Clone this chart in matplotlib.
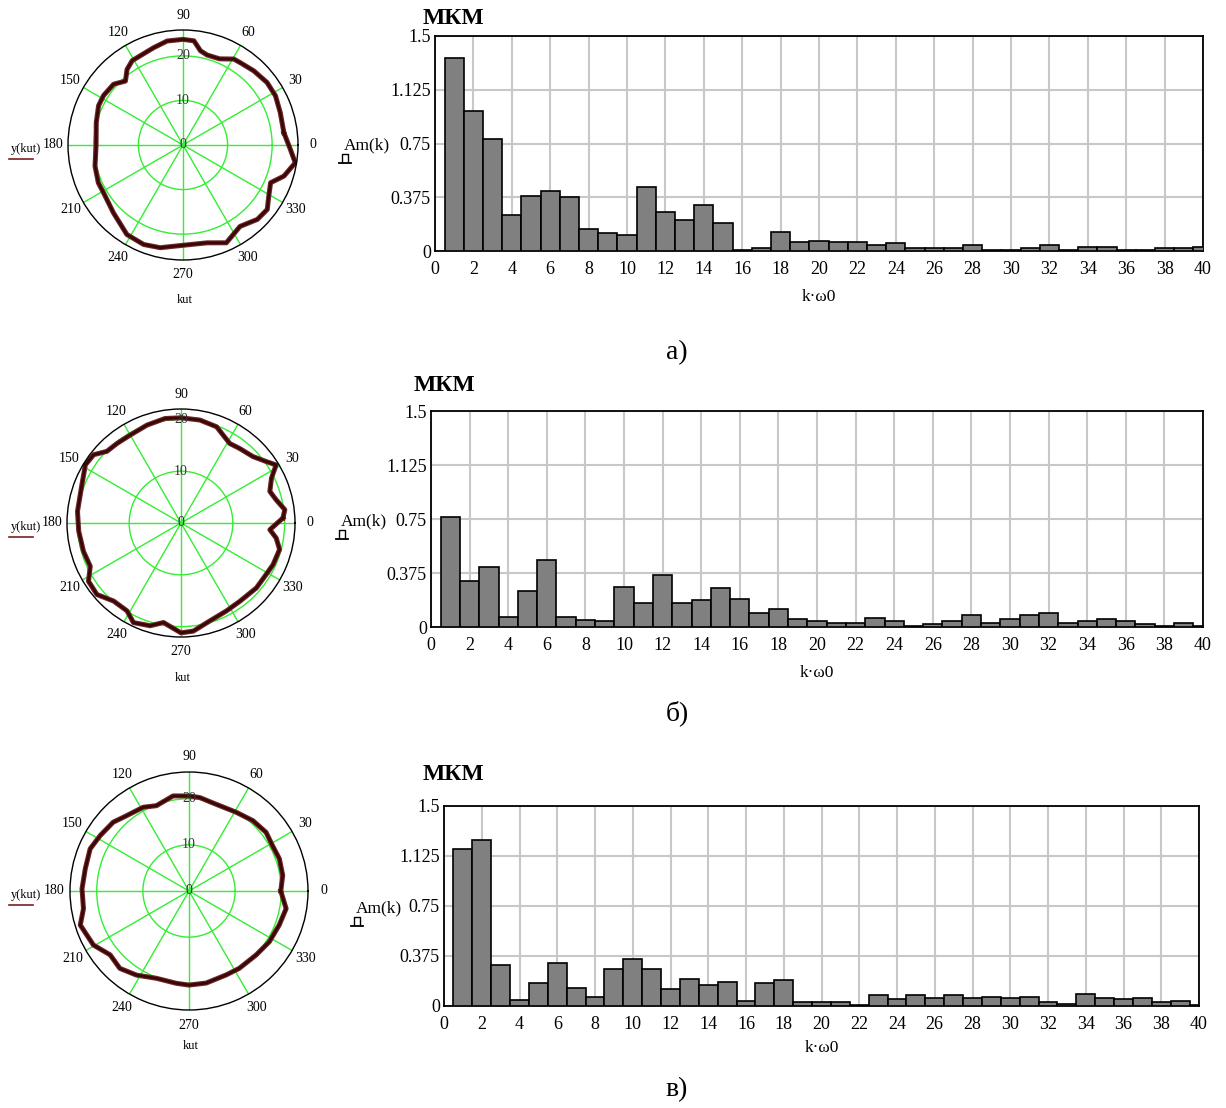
import numpy as np
import matplotlib
matplotlib.use('Agg')
import matplotlib.pyplot as plt
from matplotlib.lines import Line2D

plt.rcParams['font.family'] = ['Liberation Serif', 'DejaVu Serif']

# ---------------- data ----------------
k = np.arange(1, 41)

amp_a = [1.35, 0.98, 0.78, 0.249, 0.384, 0.417, 0.375, 0.156, 0.126, 0.112,
         0.447, 0.27, 0.219, 0.324, 0.198, 0.01, 0.02, 0.133, 0.063, 0.072,
         0.063, 0.063, 0.042, 0.053, 0.019, 0.019, 0.019, 0.042, 0.005, 0.005,
         0.019, 0.042, 0.005, 0.03, 0.03, 0.005, 0.005, 0.019, 0.019, 0.03]

amp_b = [0.762, 0.322, 0.415, 0.07, 0.25, 0.468, 0.07, 0.051, 0.04, 0.28,
         0.165, 0.364, 0.165, 0.188, 0.269, 0.195, 0.1, 0.123, 0.053, 0.042,
         0.028, 0.028, 0.063, 0.042, 0.005, 0.021, 0.042, 0.081, 0.028, 0.053,
         0.081, 0.097, 0.03, 0.042, 0.053, 0.042, 0.021, 0.005, 0.03, 0.005]

amp_c = [1.181, 1.243, 0.304, 0.045, 0.169, 0.326, 0.137, 0.064, 0.274, 0.356,
         0.274, 0.127, 0.199, 0.157, 0.179, 0.035, 0.175, 0.194, 0.027, 0.027,
         0.027, 0.005, 0.082, 0.05, 0.082, 0.06, 0.082, 0.06, 0.07, 0.06,
         0.07, 0.03, 0.017, 0.092, 0.06, 0.05, 0.06, 0.03, 0.04, 0.005]

ang_a = [7, 18.4, 28, 36.6, 46.3, 55.1, 59.4, 67, 75, 79.5, 84, 90, 98.7, 106.8,
         115.6, 121, 126.5, 132, 138.8, 148, 155, 165.5, 180, 193.5, 204, 211,
         224.3, 237.9, 248.4, 257.5, 270, 283.8, 293.9, 305, 315, 322.6, 329.2,
         336.7, 342.9, 351, 357.7]
rad_a = [22.8, 23.0, 23.5, 23.5, 23.0, 22.5, 22.4, 21.0, 20.9, 21.5, 23.5, 23.7,
         23.6, 22.8, 22.2, 22.1, 21.1, 19.3, 20.7, 21.0, 20.9, 20.1, 19.5, 20.3,
         20.8, 20.8, 21.8, 23.7, 24.0, 23.6, 22.5, 22.6, 24.0, 22.3, 23.6, 23.8,
         22.4, 21.4, 23.7, 25.5, 24.1]

ang_b = [2.8, 7.3, 13.7, 19.6, 26.4, 31.4, 35.7, 42.7, 51.8, 58.5, 69.7, 79.6,
         90, 98.7, 109.2, 120, 128.8, 136, 142, 148.7, 158.9, 173.6, 184.6,
         196.2, 205.5, 212.2, 220.4, 229.2, 238.4, 244.5, 253.3, 260, 270,
         276.5, 286.4, 297.3, 307, 319.3, 328.9, 335.7, 345, 351, 355.7]
rad_b = [19.7, 20.2, 18.9, 18.2, 19.5, 21.5, 20.3, 18.9, 18.3, 18.0, 19.8, 20.2,
         20.3, 20.4, 20.0, 19.6, 19.7, 19.9, 21.4, 21.6, 20.5, 20.1, 19.8, 19.6,
         19.4, 21.1, 21.3, 19.9, 19.9, 21.3, 20.7, 19.5, 21.2, 21.0, 19.7, 19.1,
         18.9, 19.2, 19.2, 19.5, 19.7, 18.6, 17.2]

ang_c = [0, 9.5, 19.6, 28.5, 37.3, 47.8, 59.1, 72.6, 83.5, 90, 99.5, 110.9,
         118.7, 129.6, 137.8, 148, 156.9, 167.9, 178.8, 189.5, 197.4, 209.5,
         219, 228.2, 238, 249.6, 262.2, 270, 280.6, 293.9, 303, 316.3, 327.7,
         339.3, 349.7]
rad_c = [19.9, 20.6, 20.8, 20.6, 21.0, 20.6, 19.9, 19.7, 20.4, 20.6, 20.9, 19.8,
         20.7, 21.2, 22.2, 22.7, 23.3, 23.0, 23.2, 23.2, 24.7, 23.8, 22.0, 22.5,
         21.5, 20.2, 20.2, 20.4, 20.3, 19.9, 20.0, 20.1, 20.6, 20.9, 21.4]

xticks = list(range(0, 41, 2))
yticks = [0, 0.375, 0.75, 1.125, 1.5]
ytick_labels = ['0', '0.375', '0.75', '1.125', '1.5']
angle_ticks = list(range(0, 360, 30))
ring_ticks = [10, 20]
captions = ['а)', 'б)', 'в)']

# ---------------- layout helpers ----------------
W, H = 1226, 1108
fig = plt.figure(figsize=(W / 100, H / 100), dpi=100)


def fbox(l, t, r, b):
    return [l / W, 1 - b / H, (r - l) / W, (b - t) / H]


def ftext(x, y, s, **kw):
    fig.text(x / W, 1 - y / H, s, **kw)


def fline(xs, ys, **kw):
    fig.add_artist(Line2D([x / W for x in xs], [1 - y / H for y in ys],
                          transform=fig.transFigure, **kw))


GREEN = '#33ee33'
MAROON = '#3d0505'


def polar_panel(cx, cy, R, rmax, ang, rad):
    ax = fig.add_axes(fbox(cx - R, cy - R, cx + R, cy + R), projection='polar')
    ax.set_theta_zero_location('E')
    ax.set_rlim(0, rmax)
    ax.set_thetagrids(angle_ticks, labels=[])
    ax.set_rgrids(ring_ticks, labels=[])
    ax.grid(True, color=GREEN, lw=1.0)
    ax.spines['polar'].set_color('black')
    ax.spines['polar'].set_linewidth(1.0)
    ax.tick_params(length=0)
    th = np.deg2rad(np.r_[ang, ang[0]])
    rr = np.r_[rad, rad[0]]
    ax.plot(th, rr, color='#6a2a2a', lw=3.6)
    ax.plot(th, rr, color=MAROON, lw=2.0)
    for a in angle_ticks:
        ax.text(np.deg2rad(a), rmax * 1.13, str(a), ha='center', va='center',
                fontsize=10)
    for r in ring_ticks:
        ax.text(np.pi / 2, r, str(r), ha='center', va='center', fontsize=10,
                color='#333333')
    ax.text(0, 0, '0', ha='center', va='center', fontsize=10, color='#333333')
    # trace name & angle label
    ftext(26, cy + 4, 'y(kut)', ha='center', va='center', fontsize=9)
    fline([9, 33], [cy + 14, cy + 14], color='#7a2020', lw=1.2)
    ftext(cx + 2, cy + 155, 'kut', ha='center', va='center', fontsize=9)


def bar_panel(l, t, r, b, vals, title_xy, leg_xy, xl_y, cap_y, cap):
    ax = fig.add_axes(fbox(l, t, r, b))
    ax.bar(k, vals, width=1.0, color='#808080', edgecolor='black', lw=1.2,
           zorder=3)
    ax.set_xlim(0, 40)
    ax.set_ylim(0, 1.5)
    ax.set_xticks(xticks)
    ax.set_yticks(yticks, ytick_labels)
    ax.grid(True, color='#c8c8c8', lw=1.5, zorder=0)
    ax.set_axisbelow(True)
    ax.tick_params(length=0, labelsize=13, pad=3)
    ax.tick_params(axis='x', pad=7)
    for s in ax.spines.values():
        s.set_linewidth(1.3)
    ftext(title_xy[0], title_xy[1], 'МКМ', ha='center', va='center',
          fontsize=17, fontweight='bold')
    lx, ly = leg_xy
    ftext(lx, ly, 'Am(k)', ha='center', va='center', fontsize=12.5)
    # small trace symbol under legend text
    mx, my = lx - 22, ly + 13
    fline([mx - 3, mx - 3, mx + 3, mx + 3], [my + 4, my - 4, my - 4, my + 4],
          color='black', lw=1.0)
    fline([mx - 6, mx + 6], [my + 5, my + 5], color='black', lw=1.3)
    ftext((l + r) / 2, xl_y, 'k·ω0', ha='center', va='center', fontsize=12.5)
    ftext(677, cap_y, cap, ha='center', va='center', fontsize=20)


polar_panel(183, 145, 115, 25.8, ang_a, rad_a)
polar_panel(181, 523, 114, 22.0, ang_b, rad_b)
polar_panel(189, 891, 119, 25.8, ang_c, rad_c)

bar_panel(435, 36, 1203, 251, amp_a, (453, 18), (367, 145), 297, 353, captions[0])
bar_panel(431, 411, 1203, 627, amp_b, (444, 385), (364, 521), 673, 713, captions[1])
bar_panel(444, 806, 1199, 1006, amp_c, (453, 774), (379, 908), 1048, 1090, captions[2])

fig.savefig('out.png', dpi=100)
